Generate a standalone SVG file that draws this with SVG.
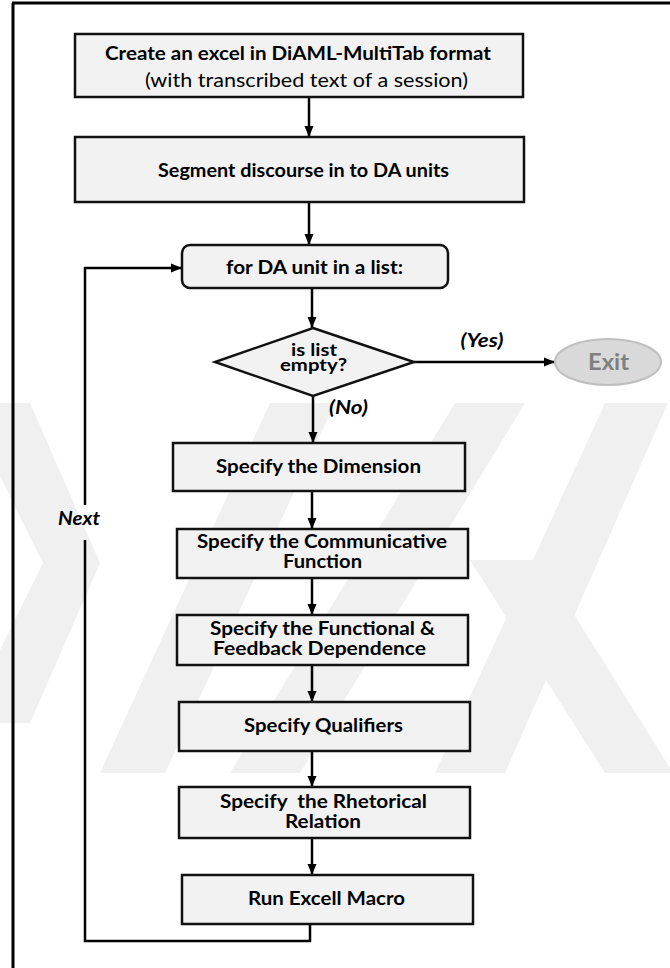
<svg xmlns="http://www.w3.org/2000/svg" width="670" height="968" viewBox="0 0 670 968">
<style>
.box{fill:#f2f2f2;stroke:#111;stroke-width:2.5}
.t{font-family:Lato,"Liberation Sans",Arial,sans-serif;font-weight:bold;font-size:19px;fill:#000;text-anchor:middle}
.s{font-size:18px}
.n{font-weight:normal}
.lbl{font-family:Lato,"Liberation Sans",Arial,sans-serif;font-weight:bold;font-style:italic;font-size:18px;fill:#000;text-anchor:middle}
.c{fill:none;stroke:#000;stroke-width:2.5}
.wm{fill:#f0f0f0}
</style>
<defs>
<marker id="ah" markerUnits="userSpaceOnUse" markerWidth="12" markerHeight="10" refX="11" refY="5" orient="auto">
<path d="M0,0.5 L11,5 L0,9.5 Z" fill="#000"/>
</marker>
</defs>
<rect width="670" height="968" fill="#fff"/>
<g id="watermark">
<polygon class="wm" points="0,403 30,403 100,563 30,723 0,723 0,650 43,563 0,476"/>
<polygon class="wm" points="270,403 335,403 165,773 100,773"/>
<polygon class="wm" points="455,403 525,403 300,773 230,773"/>
<polygon class="wm" points="605,403 668,403 505,773 435,773"/>
<polygon class="wm" points="470,560 540,560 670,768 670,773 605,773"/>
</g>
<g id="frame">
<line x1="13" y1="3" x2="13" y2="968" stroke="#000" stroke-width="3"/>
<line x1="12" y1="3" x2="670" y2="3" stroke="#000" stroke-width="3"/>
</g>
<g id="connectors">
<line class="c" x1="309" y1="97" x2="309" y2="137" marker-end="url(#ah)"/>
<line class="c" x1="309" y1="202" x2="309" y2="245" marker-end="url(#ah)"/>
<line class="c" x1="312" y1="288" x2="312" y2="328" marker-end="url(#ah)"/>
<line class="c" x1="414" y1="362" x2="555" y2="362" marker-end="url(#ah)"/>
<line class="c" x1="313" y1="396" x2="313" y2="443" marker-end="url(#ah)"/>
<line class="c" x1="312" y1="491" x2="312" y2="529" marker-end="url(#ah)"/>
<line class="c" x1="312" y1="578" x2="312" y2="615" marker-end="url(#ah)"/>
<line class="c" x1="312" y1="665" x2="312" y2="702" marker-end="url(#ah)"/>
<line class="c" x1="312" y1="751" x2="312" y2="787" marker-end="url(#ah)"/>
<line class="c" x1="312" y1="838" x2="312" y2="875" marker-end="url(#ah)"/>
<polyline class="c" points="310,924 310,941 85,941 85,540"/>
<polyline class="c" points="85,505 85,268 182,268" marker-end="url(#ah)"/>
<text class="lbl" x="482" y="347" textLength="43" lengthAdjust="spacingAndGlyphs">(Yes)</text>
<text class="lbl" x="348.5" y="414" textLength="39" lengthAdjust="spacingAndGlyphs">(No)</text>
<text class="lbl" x="79" y="525" textLength="42" lengthAdjust="spacingAndGlyphs">Next</text>
</g>
<g id="n1">
<rect class="box" x="75" y="34" width="448" height="63"/>
<text class="t" x="298" y="60" textLength="386" lengthAdjust="spacingAndGlyphs">Create an excel in DiAML-MultiTab format</text>
<text class="t n" x="306.5" y="87" textLength="323" lengthAdjust="spacingAndGlyphs">(with transcribed text of a session)</text>
</g>
<g id="n2">
<rect class="box" x="75" y="137" width="449" height="65"/>
<text class="t" x="303.5" y="177" textLength="291" lengthAdjust="spacingAndGlyphs">Segment discourse in to DA units</text>
</g>
<g id="n3">
<rect class="box" x="182" y="245" width="266" height="43" rx="8"/>
<text class="t" x="314.5" y="274" textLength="177" lengthAdjust="spacingAndGlyphs">for DA unit in a list:</text>
</g>
<g id="n4">
<polygon class="box" points="313,328 414,362 313,396 215,362"/>
<text class="t" x="314" y="356" style="font-size:16.5px" textLength="46" lengthAdjust="spacingAndGlyphs">is list</text>
<text class="t" x="313.5" y="371" style="font-size:16.5px" textLength="67" lengthAdjust="spacingAndGlyphs">empty?</text>
</g>
<g id="exit">
<ellipse cx="608" cy="362" rx="53" ry="23" fill="#d9d9d9" stroke="#bfbfbf" stroke-width="2"/>
<text class="t" x="608.5" y="370" style="fill:#7f7f7f;font-size:22px" textLength="41" lengthAdjust="spacingAndGlyphs">Exit</text>
</g>
<g id="n5">
<rect class="box" x="173" y="443" width="292" height="48"/>
<text class="t" x="318.5" y="473" textLength="205" lengthAdjust="spacingAndGlyphs">Specify the Dimension</text>
</g>
<g id="n6">
<rect class="box" x="177" y="529" width="291" height="49"/>
<text class="t s" x="322" y="548" textLength="250" lengthAdjust="spacingAndGlyphs">Specify the Communicative</text>
<text class="t s" x="322.5" y="568" textLength="79" lengthAdjust="spacingAndGlyphs">Function</text>
</g>
<g id="n7">
<rect class="box" x="177" y="615" width="291" height="50"/>
<text class="t s" x="322.5" y="635" textLength="225" lengthAdjust="spacingAndGlyphs">Specify the Functional &amp;</text>
<text class="t s" x="319.5" y="655" textLength="213" lengthAdjust="spacingAndGlyphs">Feedback Dependence</text>
</g>
<g id="n8">
<rect class="box" x="179" y="702" width="291" height="49"/>
<text class="t" x="323.5" y="732" textLength="159" lengthAdjust="spacingAndGlyphs">Specify Qualifiers</text>
</g>
<g id="n9">
<rect class="box" x="179" y="787" width="291" height="51"/>
<text class="t s" x="323.5" y="808" textLength="207" lengthAdjust="spacingAndGlyphs" xml:space="preserve">Specify  the Rhetorical</text>
<text class="t s" x="323" y="828" textLength="76" lengthAdjust="spacingAndGlyphs">Relation</text>
</g>
<g id="n10">
<rect class="box" x="182" y="875" width="291" height="49"/>
<text class="t" x="326.5" y="905" textLength="157" lengthAdjust="spacingAndGlyphs">Run Excell Macro</text>
</g>
</svg>
